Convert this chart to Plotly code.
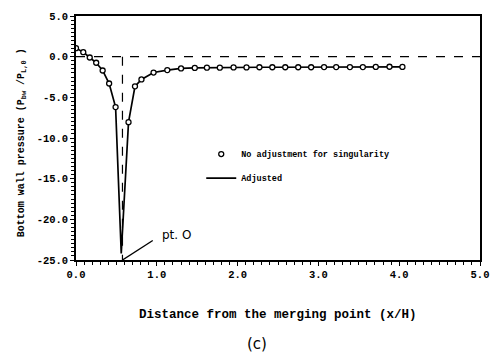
import plotly.graph_objects as go

# Data
x_no_adj = [0.00, 0.09, 0.17, 0.25, 0.33, 0.41, 0.49, 0.65, 0.73, 0.81,
            0.96, 1.13, 1.30, 1.47, 1.62, 1.78, 1.95, 2.11, 2.27, 2.43,
            2.59, 2.75, 2.91, 3.07, 3.22, 3.39, 3.55, 3.71, 3.88, 4.04]
p_no_adj = [1.05, 0.55, -0.10, -0.75, -1.70, -3.30, -6.20, -8.05, -3.65, -2.80,
            -1.95, -1.65, -1.45, -1.38, -1.35, -1.35, -1.32, -1.32, -1.30, -1.30,
            -1.30, -1.30, -1.30, -1.28, -1.28, -1.28, -1.28, -1.26, -1.24, -1.26]

x_adj = [0.00, 0.09, 0.17, 0.25, 0.33, 0.41, 0.49, 0.56, 0.65, 0.73, 0.81,
         0.96, 1.13, 1.30, 1.47, 1.62, 1.78, 1.95, 2.11, 2.27, 2.43,
         2.59, 2.75, 2.91, 3.07, 3.22, 3.39, 3.55, 3.71, 3.88, 4.04]
p_adj = [1.05, 0.55, -0.10, -0.75, -1.70, -3.30, -6.20, -24.2, -8.05, -3.65, -2.80,
         -1.95, -1.65, -1.45, -1.38, -1.35, -1.35, -1.32, -1.32, -1.30, -1.30,
         -1.30, -1.30, -1.30, -1.28, -1.28, -1.28, -1.28, -1.26, -1.24, -1.26]

x_singular = 0.575
x_ticks = [0, 1, 2, 3, 4, 5]
x_tick_text = ["0.0", "1.0", "2.0", "3.0", "4.0", "5.0"]
y_ticks = [5, 0, -5, -10, -15, -20, -25]
y_tick_text = ["5.0", "0.0", "-5.0", "-10.0", "-15.0", "-20.0", "-25.0"]

FONT = "Liberation Mono"

fig = go.Figure()
fig.add_trace(go.Scatter(
    x=x_adj, y=p_adj, mode="lines", name="Adjusted",
    line=dict(color="black", width=1.7), legendgroup="b", legendrank=2,
))
fig.add_trace(go.Scatter(
    x=x_no_adj, y=p_no_adj, mode="markers", name="No adjustment for singularity",
    marker=dict(symbol="circle", size=5, color="white",
                line=dict(color="black", width=1.3)),
    legendgroup="a", legendrank=1,
))

# dashed reference lines
fig.add_shape(type="line", x0=0, x1=5, y0=0, y1=0,
              line=dict(color="black", width=1.2, dash="dash"))
fig.add_shape(type="line", x0=x_singular, x1=x_singular, y0=0, y1=-25,
              line=dict(color="black", width=1.2, dash="dash"))
# pointer line for pt. O
fig.add_shape(type="line", x0=x_singular, y0=-25, x1=0.95, y1=-22.6,
              line=dict(color="black", width=1.4))
fig.add_annotation(x=1.04, y=-21.9, text="pt. O", showarrow=False,
                   xanchor="left", yanchor="middle",
                   font=dict(family="DejaVu Sans", size=12, color="black"))

axis_common = dict(
    showline=True, linecolor="black", linewidth=1.5, mirror=True,
    ticks="outside", ticklen=4, tickwidth=1.2, tickcolor="black",
    showgrid=False, zeroline=False,
    tickfont=dict(family=FONT, size=10.5, color="black", weight="bold"),
)
fig.update_xaxes(range=[0, 5], tickvals=x_ticks, ticktext=x_tick_text,
                 minor=dict(dtick=0.1, ticks="outside", ticklen=3,
                            tickcolor="black", tickwidth=1),
                 **axis_common)
fig.update_yaxes(range=[-25, 5], tickvals=y_ticks, ticktext=y_tick_text,
                 minor=dict(dtick=0.5, ticks="outside", ticklen=3,
                            tickcolor="black", tickwidth=1),
                 **axis_common)

fig.add_annotation(
    x=0.5, xref="paper", y=-0.225, yref="paper", yanchor="middle",
    text="Distance from the merging point (x/H)", showarrow=False,
    font=dict(family=FONT, size=12.5, color="black", weight="bold"))
fig.add_annotation(
    x=-0.135, xref="paper", y=0.48, yref="paper", xanchor="center",
    yanchor="middle",
    text="Bottom wall pressure (P<sub>bw</sub> /P<sub>L,0</sub> )",
    textangle=-90, showarrow=False,
    font=dict(family=FONT, size=10, color="black", weight="bold"))
fig.add_annotation(
    x=0.449, xref="paper", y=-0.343, yref="paper", yanchor="middle",
    text="(c)", showarrow=False,
    font=dict(family="DejaVu Sans", size=15, color="black"))

fig.update_layout(
    width=500, height=356,
    margin=dict(l=76, r=13, t=11, b=96),
    paper_bgcolor="white", plot_bgcolor="white",
    showlegend=True,
    legend=dict(x=0.31, y=0.385, xanchor="left", yanchor="middle",
                bgcolor="rgba(0,0,0,0)", tracegroupgap=5,
                font=dict(family=FONT, size=8.5, color="black", weight="bold"),
                itemwidth=30),
)

fig.write_html("out.html")
